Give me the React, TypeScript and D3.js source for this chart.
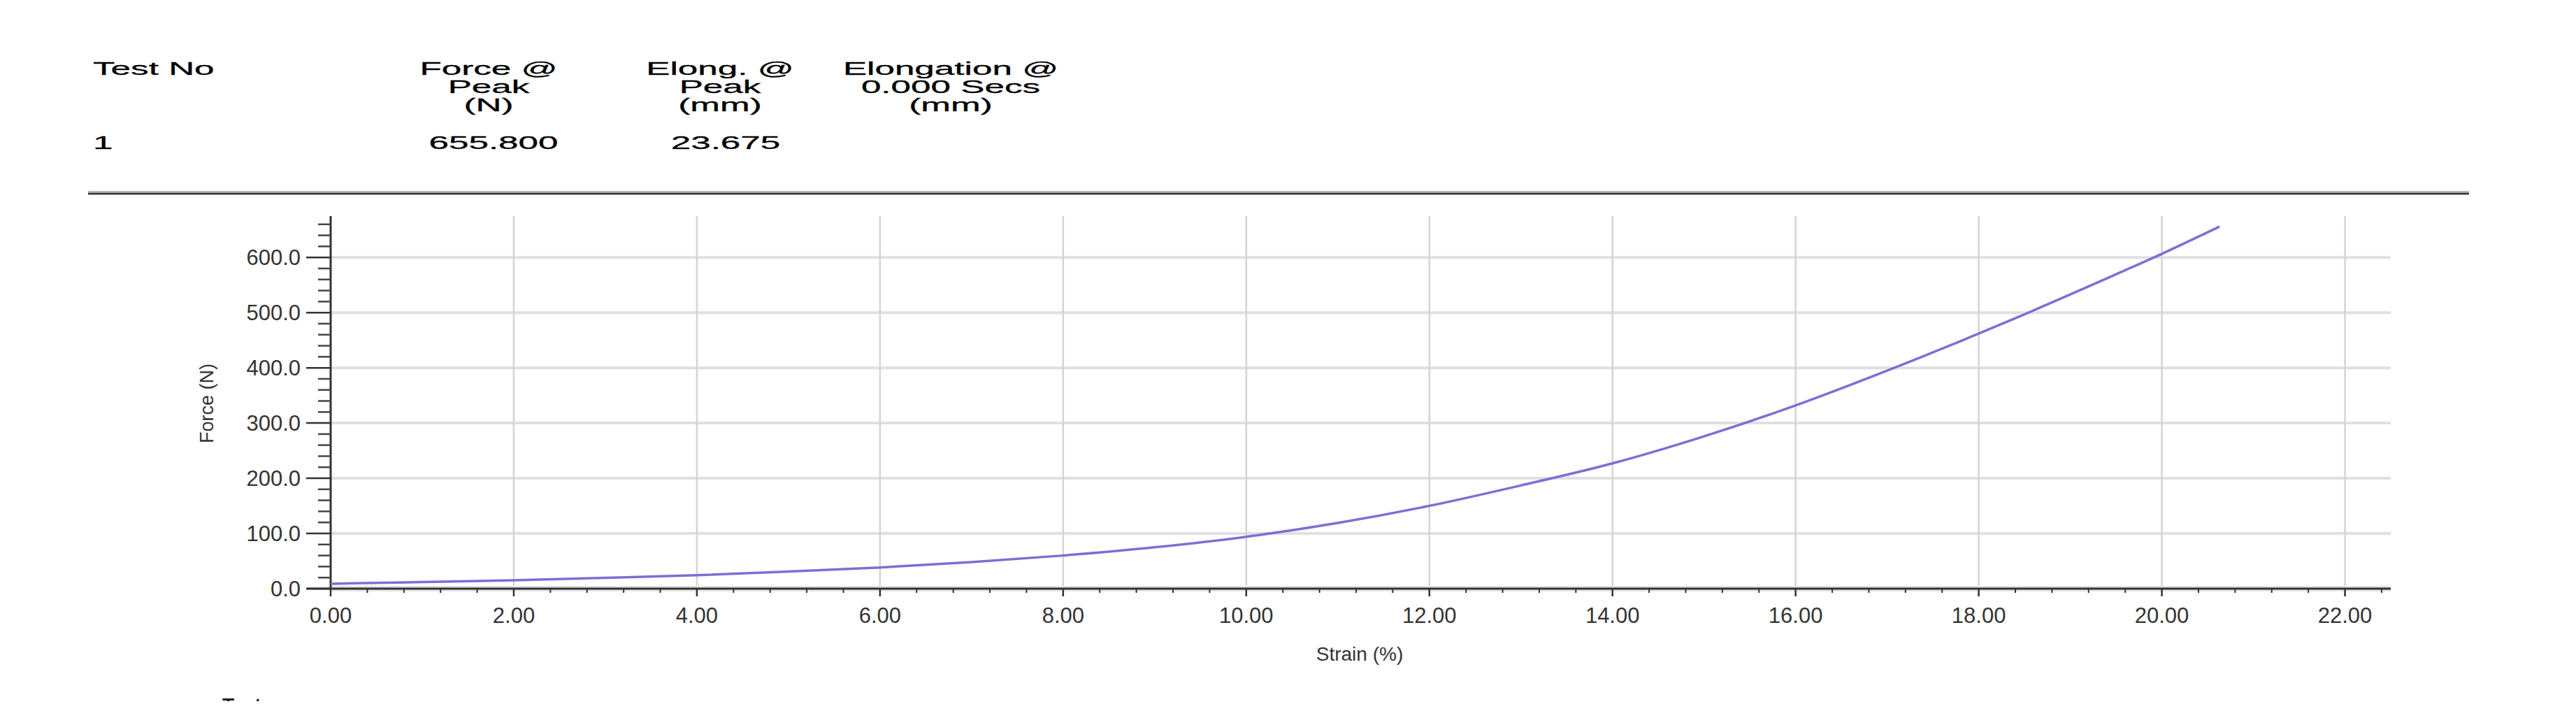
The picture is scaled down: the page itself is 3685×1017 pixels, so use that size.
import React from "react";
import * as d3 from "d3";

// ---- data ----
const headerColumns: string[][] = [
  ["Test No"],
  ["Force @", "Peak", "(N)"],
  ["Elong. @", "Peak", "(mm)"],
  ["Elongation @", "0.000 Secs", "(mm)"],
];
const resultRow: string[] = ["1", "655.800", "23.675", ""];

const strain: number[] = [0, 1, 2, 3, 4, 5, 6, 7, 8, 9, 10, 11, 12, 13, 14, 15, 16, 17, 18, 18.5, 19, 19.5, 20, 20.63];
const force: number[] = [9, 12, 15.2, 19.5, 24.4, 31, 38.4, 48, 60, 75, 94, 119, 150, 187, 227, 276, 332, 395, 462, 497, 533, 569.5, 606.5, 655.8];

const xMajorTicks: number[] = [0, 2, 4, 6, 8, 10, 12, 14, 16, 18, 20, 22];
const yMajorTicks: number[] = [0, 100, 200, 300, 400, 500, 600];
const xTitle = "Strain (%)";
const yTitle = "Force (N)";
const footerText = "Test";

// ---- layout ----
const W = 3685;
const H = 1017;
const FONT = "'Liberation Sans', Arial, sans-serif";

export default function App() {
  const x = d3.scaleLinear().domain([0, 22.5]).range([473, 3420]);
  const y = d3.scaleLinear().domain([0, 675]).range([842, 309]);

  const xMinor = d3.range(0, 22.41, 0.4).filter((v) => Math.abs(v / 2 - Math.round(v / 2)) > 1e-6);
  const yMinor = d3.range(0, 661, 20).filter((v) => v % 100 !== 0);

  const pts = strain.map((s, i) => [s, force[i]] as [number, number]);
  const line = d3
    .line<[number, number]>()
    .x((d) => x(d[0]))
    .y((d) => y(d[1]))
    .curve(d3.curveMonotoneX);

  const sx = 1.97; // header text horizontal stretch
  const colCenters = [133, 699, 1030, 1360];
  const valCenters = [133, 706, 1038, 1360];
  const lineBase = [107, 133, 159];
  const [x0, x1] = x.range();
  const [yBot, yTop] = y.range();

  return (
    <div style={{ position: "absolute", left: 0, top: 0, width: W, height: H, overflow: "hidden", background: "#fff" }}>
      <svg width={W} height={H} style={{ display: "block" }} fontFamily={FONT}>
        <defs>
          <clipPath id="footClip">
            <rect x={0} y={0} width={W} height={1003} />
          </clipPath>
        </defs>
        <rect x={0} y={0} width={W} height={H} fill="#fff" />
        {/* header table */}
        <g transform={`scale(${sx},1)`} fontSize={26} fill="#000" stroke="#000" strokeWidth={0.3}>
          {headerColumns.map((lines, ci) =>
            lines.map((t, li) => (
              <text
                key={`h${ci}-${li}`}
                x={colCenters[ci] / sx}
                y={lineBase[li]}
                textAnchor={ci === 0 ? "start" : "middle"}
              >
                {t}
              </text>
            ))
          )}
          {resultRow.map((t, ci) => (
            <text key={`v${ci}`} x={valCenters[ci] / sx} y={213} textAnchor={ci === 0 ? "start" : "middle"}>
              {t}
            </text>
          ))}
        </g>
        <line x1={126} x2={3532} y1={274} y2={274} stroke="#b8b8b8" strokeWidth={2} />
        <line x1={126} x2={3532} y1={277} y2={277} stroke="#3a3a3a" strokeWidth={3} />

        {/* grid */}
        {yMajorTicks.filter((v) => v > 0).map((v) => (
          <line key={`gy${v}`} x1={x0} x2={x1} y1={y(v)} y2={y(v)} stroke="#e0e0e0" strokeWidth={4} />
        ))}
        {xMajorTicks.filter((v) => v > 0).map((v) => (
          <line key={`gx${v}`} x1={x(v)} x2={x(v)} y1={yTop} y2={yBot} stroke="#d4d4d4" strokeWidth={2.5} />
        ))}

        {/* x axis */}
        <line x1={x0} x2={x1} y1={yBot} y2={yBot} stroke="#e4e4e4" strokeWidth={8} />
        <line x1={439} x2={x1} y1={yBot} y2={yBot} stroke="#333" strokeWidth={3} />
        {xMajorTicks.map((v) => (
          <line key={`xt${v}`} x1={x(v)} x2={x(v)} y1={yBot} y2={yBot + 11} stroke="#333" strokeWidth={2.5} />
        ))}
        {xMinor.map((v) => (
          <line key={`xm${v}`} x1={x(v)} x2={x(v)} y1={yBot} y2={yBot + 6} stroke="#333" strokeWidth={2} />
        ))}
        {xMajorTicks.map((v) => (
          <text key={`xl${v}`} x={x(v)} y={891} textAnchor="middle" fontSize={31} fill="#333">
            {v.toFixed(2)}
          </text>
        ))}
        <text x={1945} y={945} textAnchor="middle" fontSize={28} fill="#333">
          {xTitle}
        </text>

        {/* y axis */}
        <line x1={x0} x2={x0} y1={yTop} y2={yBot} stroke="#333" strokeWidth={3} />
        {yMajorTicks.map((v) => (
          <line key={`yt${v}`} x1={x0 - 35} x2={x0} y1={y(v)} y2={y(v)} stroke="#333" strokeWidth={2.5} />
        ))}
        {yMinor.map((v) => (
          <line key={`ym${v}`} x1={x0 - 18} x2={x0} y1={y(v)} y2={y(v)} stroke="#444" strokeWidth={2.5} />
        ))}
        {yMajorTicks.map((v) => (
          <text key={`yl${v}`} x={430} y={y(v) + 11} textAnchor="end" fontSize={31} fill="#333">
            {v.toFixed(1)}
          </text>
        ))}
        <text transform={`translate(305,577) rotate(-90)`} textAnchor="middle" fontSize={27} fill="#333">
          {yTitle}
        </text>

        {/* curve */}
        <path d={line(pts) || ""} fill="none" stroke="#7a70d4" strokeWidth={3.5} />

        {/* cut-off footer text */}
        <g clipPath="url(#footClip)">
          <text x={318} y={1018} fontSize={28} fontWeight="bold" fill="#222">
            {footerText}
          </text>
        </g>
      </svg>
    </div>
  );
}
